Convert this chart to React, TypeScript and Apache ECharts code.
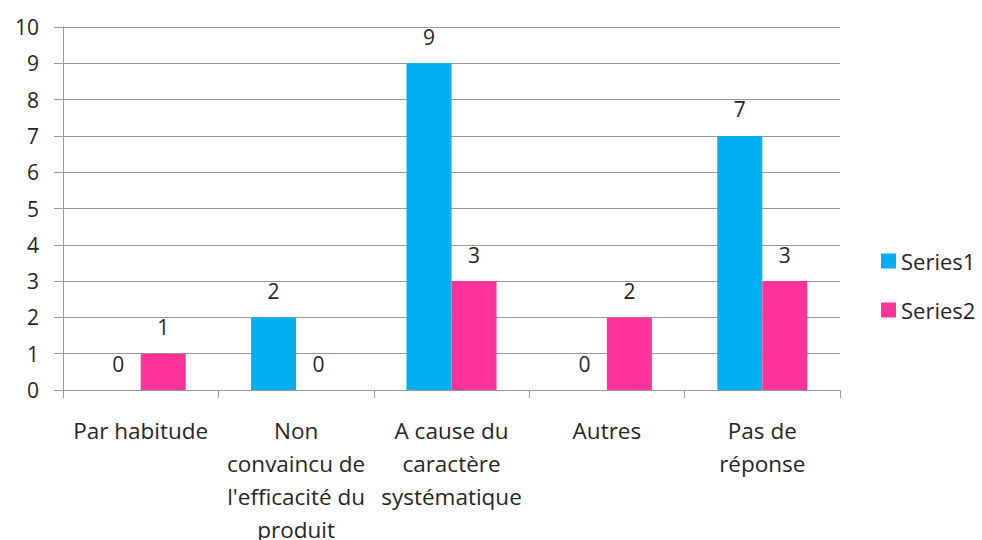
import React, { useEffect, useRef } from "react";
import * as echarts from "echarts";

const categories = [
  "Par habitude",
  "Non\nconvaincu de\nl'efficacité du\nproduit",
  "A cause du\ncaractère\nsystématique",
  "Autres",
  "Pas de\nréponse",
];
const series1 = [0, 2, 9, 0, 7];
const series2 = [1, 0, 3, 2, 3];
const seriesNames = ["Series1", "Series2"];
const colors = ["#00B0F0", "#FF3399"];

const FONT = "Open Sans";
const TEXT = "#262626";
const LINE = "#9a9a9a";

export default function App() {
  const ref = useRef<HTMLDivElement>(null);
  useEffect(() => {
    if (!ref.current) return;
    const chart = echarts.init(ref.current, undefined, { renderer: "svg" });
    const label = {
      show: true,
      position: "top",
      distance: 16,
      fontSize: 21,
      fontFamily: FONT,
      color: TEXT,
    };
    chart.setOption({
      animation: false,
      textStyle: { fontFamily: FONT },
      grid: {
        left: 63,
        right: 142,
        top: 27,
        bottom: 150,
        containLabel: false,
        outerBoundsMode: "none",
      },
      legend: {
        orient: "vertical",
        left: 881,
        top: 250,
        itemWidth: 15,
        itemHeight: 15,
        itemGap: 27,
        padding: 0,
        icon: "rect",
        itemStyle: { borderWidth: 0 },
        textStyle: { fontSize: 22, fontFamily: FONT, color: TEXT },
        data: seriesNames,
      },
      xAxis: {
        type: "category",
        data: categories,
        axisLine: { lineStyle: { color: LINE, width: 1 } },
        axisTick: { show: true, length: 8, lineStyle: { color: LINE } },
        axisLabel: {
          interval: 0,
          fontSize: 22.5,
          lineHeight: 33,
          margin: 24,
          color: TEXT,
          fontFamily: FONT,
        },
      },
      yAxis: {
        type: "value",
        min: 0,
        max: 10,
        interval: 1,
        axisLine: { show: true, lineStyle: { color: LINE, width: 1 } },
        axisTick: { show: true, length: 9, lineStyle: { color: LINE } },
        splitLine: { show: true, lineStyle: { color: LINE, width: 1 } },
        axisLabel: { fontSize: 21, margin: 24, color: TEXT, fontFamily: FONT },
      },
      series: [
        {
          name: seriesNames[0],
          type: "bar",
          data: series1,
          barWidth: 45,
          barGap: "0%",
          itemStyle: { color: colors[0] },
          label,
        },
        {
          name: seriesNames[1],
          type: "bar",
          data: series2,
          barWidth: 45,
          barGap: "0%",
          itemStyle: { color: colors[1] },
          label,
        },
      ],
    });
    return () => chart.dispose();
  }, []);
  return <div ref={ref} style={{ width: 982, height: 540, position: "absolute", left: 0, top: 0 }} />;
}
